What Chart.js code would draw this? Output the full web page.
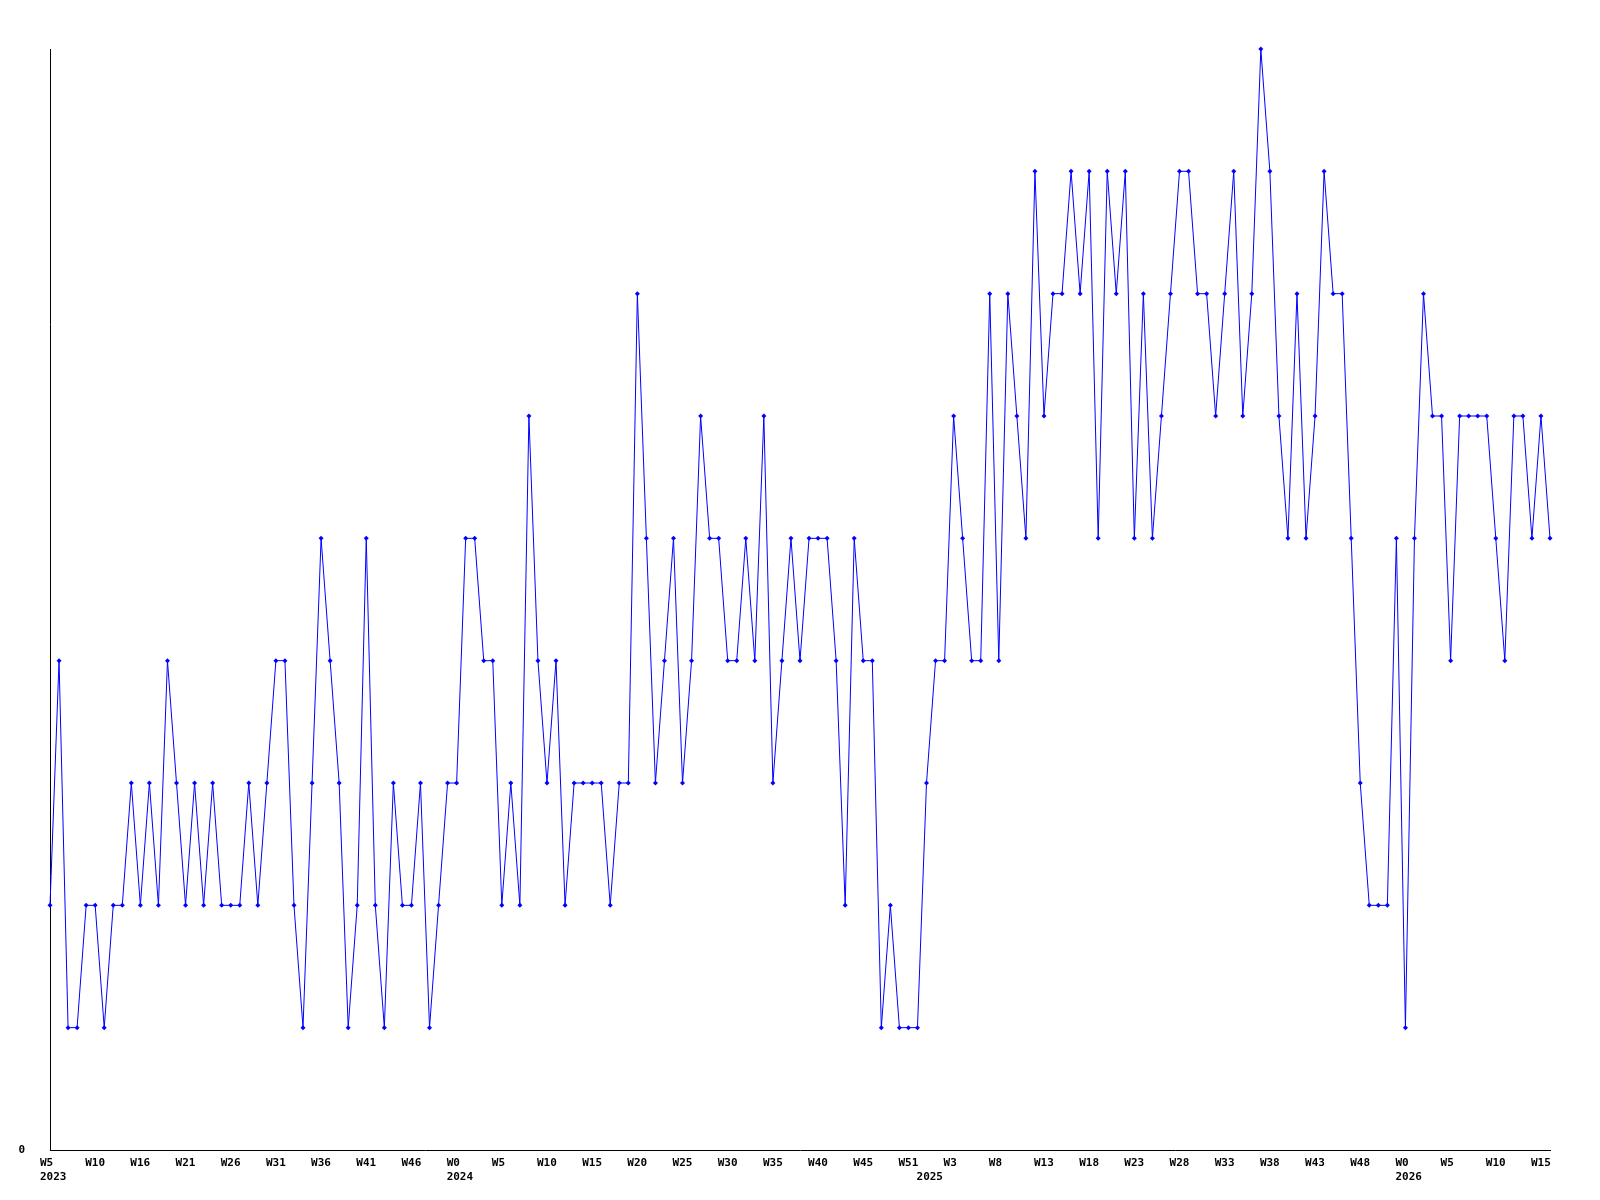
<!DOCTYPE html>
<html>
<head>
<meta charset="utf-8">
<script src="https://cdn.jsdelivr.net/npm/chart.js@4/dist/chart.umd.min.js"></script>
<style>
  html, body { margin: 0; padding: 0; background: #fff; }
  #wrap { width: 1600px; height: 1200px; }
</style>
</head>
<body>
<div id="wrap"><canvas id="weekChart" width="1600" height="1200"></canvas></div>
<script>
// weekly values, one per week from W5 2023
var values = [
  2, 4, 1, 1, 2, 2, 1, 2, 2, 3,
  2, 3, 2, 4, 3, 2, 3, 2, 3, 2,
  2, 2, 3, 2, 3, 4, 4, 2, 1, 3,
  5, 4, 3, 1, 2, 5, 2, 1, 3, 2,
  2, 3, 1, 2, 3, 3, 5, 5, 4, 4,
  2, 3, 2, 6, 4, 3, 4, 2, 3, 3,
  3, 3, 2, 3, 3, 7, 5, 3, 4, 5,
  3, 4, 6, 5, 5, 4, 4, 5, 4, 6,
  3, 4, 5, 4, 5, 5, 5, 4, 2, 5,
  4, 4, 1, 2, 1, 1, 1, 3, 4, 4,
  6, 5, 4, 4, 7, 4, 7, 6, 5, 8,
  6, 7, 7, 8, 7, 8, 5, 8, 7, 8,
  5, 7, 5, 6, 7, 8, 8, 7, 7, 6,
  7, 8, 6, 7, 9, 8, 6, 5, 7, 5,
  6, 8, 7, 7, 5, 3, 2, 2, 2, 5,
  1, 5, 7, 6, 6, 4, 6, 6, 6, 6,
  5, 4, 6, 6, 5, 6, 5
];

// one label every 5 weeks
var tickLabels = ['W5', 'W10', 'W16', 'W21', 'W26', 'W31', 'W36', 'W41', 'W46',
  'W0', 'W5', 'W10', 'W15', 'W20', 'W25', 'W30', 'W35', 'W40', 'W45', 'W51',
  'W3', 'W8', 'W13', 'W18', 'W23', 'W28', 'W33', 'W38', 'W43', 'W48',
  'W0', 'W5', 'W10', 'W15'];
var tickStep = 5;

var yearLabels = ['2023', '2024', '2025', '2026'];
var yearIndex = [0, 45, 97, 150];

var fontName = "'DejaVu Sans Mono', 'Liberation Mono', monospace";

var points = [];
for (var i = 0; i < values.length; i++) {
  points.push({ x: i, y: values[i] });
}

// second row of x labels: the year
var yearPlugin = {
  id: 'yearRow',
  afterDraw: function(chart) {
    var ctx = chart.ctx;
    var xs = chart.scales.x;
    ctx.save();
    ctx.font = 'bold 11px ' + fontName;
    ctx.fillStyle = '#000';
    ctx.textAlign = 'left';
    ctx.textBaseline = 'middle';
    for (var k = 0; k < yearLabels.length; k++) {
      ctx.fillText(yearLabels[k], xs.getPixelForValue(yearIndex[k]) - 10, chart.chartArea.bottom + 27);
    }
    ctx.restore();
  }
};

new Chart(document.getElementById('weekChart'), {
  type: 'line',
  data: {
    datasets: [{
      data: points,
      borderColor: '#0000ff',
      backgroundColor: '#0000ff',
      borderWidth: 1,
      tension: 0,
      pointStyle: 'rectRot',
      pointRadius: 2.5,
      pointBorderWidth: 0,
      fill: false,
      clip: false
    }]
  },
  options: {
    responsive: false,
    animation: false,
    layout: { padding: { top: 49, right: 50, left: 0, bottom: 0 } },
    plugins: {
      legend: { display: false },
      tooltip: { enabled: false }
    },
    scales: {
      x: {
        type: 'linear',
        min: 0,
        max: values.length - 1,
        grid: { display: false, drawTicks: false },
        border: { display: true, color: '#000', width: 1 },
        afterFit: function(s) { s.height = 50; },
        afterBuildTicks: function(s) {
          s.ticks = tickLabels.map(function(_, k) { return { value: k * tickStep }; });
        },
        ticks: {
          autoSkip: false,
          maxRotation: 0,
          align: 'start',
          labelOffset: -10,
          padding: 7,
          color: '#000',
          font: { family: fontName, size: 11, weight: 'bold' },
          callback: function(v) {
            var lbl = tickLabels[Math.round(v / tickStep)];
            return lbl === undefined ? '' : lbl;
          }
        }
      },
      y: {
        min: 0,
        max: 9,
        grid: { display: false, drawTicks: false },
        border: { display: true, color: '#000', width: 1 },
        afterFit: function(s) { s.width = 50; },
        ticks: {
          stepSize: 1,
          padding: 25,
          color: '#000',
          font: { family: fontName, size: 11, weight: 'bold' },
          callback: function(v) { return v === 0 ? '0' : ''; }
        }
      }
    }
  },
  plugins: [yearPlugin]
});
</script>
</body>
</html>
